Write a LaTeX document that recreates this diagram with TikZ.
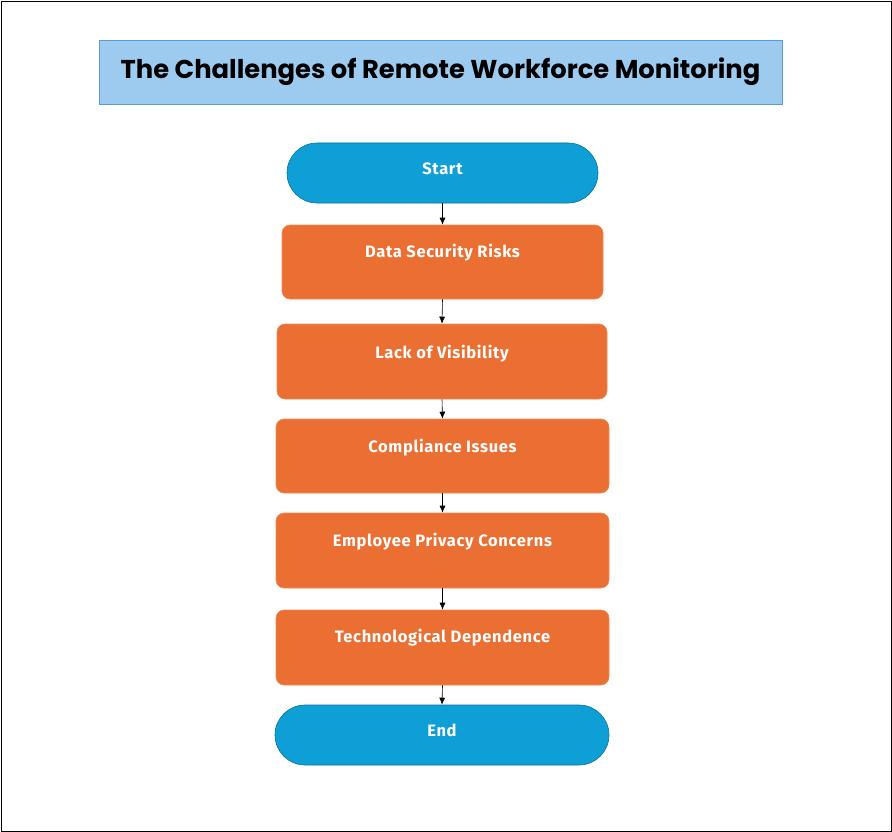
\documentclass[tikz,border=0pt]{standalone}
\usepackage{fontspec}
\setmainfont{Fira Sans}[LetterSpace=4]
\newfontfamily\titlefont{Poppins}
\usetikzlibrary{shapes.misc,arrows.meta}
\definecolor{tblue}{HTML}{9DCBF0}
\definecolor{tborder}{HTML}{5B9BD5}
\definecolor{sblue}{HTML}{0E9FD6}
\definecolor{ora}{HTML}{EB6E33}
\begin{document}
\begin{tikzpicture}[x=1pt,y=-1pt,
  oval/.style={draw=sblue!70!black,line width=0.6pt,fill=sblue,rounded rectangle,inner sep=0pt},
  boxs/.style={draw=ora!80!white,line width=0.6pt,fill=ora,rounded corners=8pt,inner sep=0pt},
  lbl/.style={text=white,font=\bfseries\fontsize{16.5}{18}\selectfont},
  arr/.style={-{Latex[length=7pt,width=6pt]},line width=0.6pt}]
\useasboundingbox (0,0) rectangle (892,832);
\draw[line width=0.8pt] (1,1) rectangle (891,831);
\node[draw=tborder,fill=tblue,minimum width=683pt,minimum height=64pt,inner sep=0pt,
  font=\titlefont\bfseries\fontsize{25.8}{28}\selectfont] (title) at (440.5,72) {The Challenges of Remote Workforce Monitoring};
\node[oval,minimum width=311pt,minimum height=60pt] (s) at (442.5,173) {};
\node[lbl] at (442.5,169) {Start};
\node[boxs,minimum width=321pt,minimum height=74pt] (b1) at (442.5,262) {};
\node[lbl] at (442.5,253) {Data Security Risks};
\node[boxs,minimum width=330pt,minimum height=75pt] (b2) at (442,361.5) {};
\node[lbl] at (442,354) {Lack of Visibility};
\node[boxs,minimum width=333pt,minimum height=74pt] (b3) at (442.5,456) {};
\node[lbl] at (442.5,448) {Compliance Issues};
\node[boxs,minimum width=333pt,minimum height=75pt] (b4) at (442.5,550.5) {};
\node[lbl] at (442.5,542) {Employee Privacy Concerns};
\node[boxs,minimum width=333pt,minimum height=75pt] (b5) at (442.5,647.5) {};
\node[lbl] at (442.5,638) {Technological Dependence};
\node[oval,minimum width=334pt,minimum height=60pt] (e) at (442,735) {};
\node[lbl] at (442,730) {End};
\draw[arr] (s.south) -- (b1.north);
\draw[arr] (b1.south) -- (b2.north);
\draw[arr] (b2.south) -- (b3.north);
\draw[arr] (b3.south) -- (b4.north);
\draw[arr] (b4.south) -- (b5.north);
\draw[arr] (b5.south) -- (e.north);
\end{tikzpicture}
\end{document}
